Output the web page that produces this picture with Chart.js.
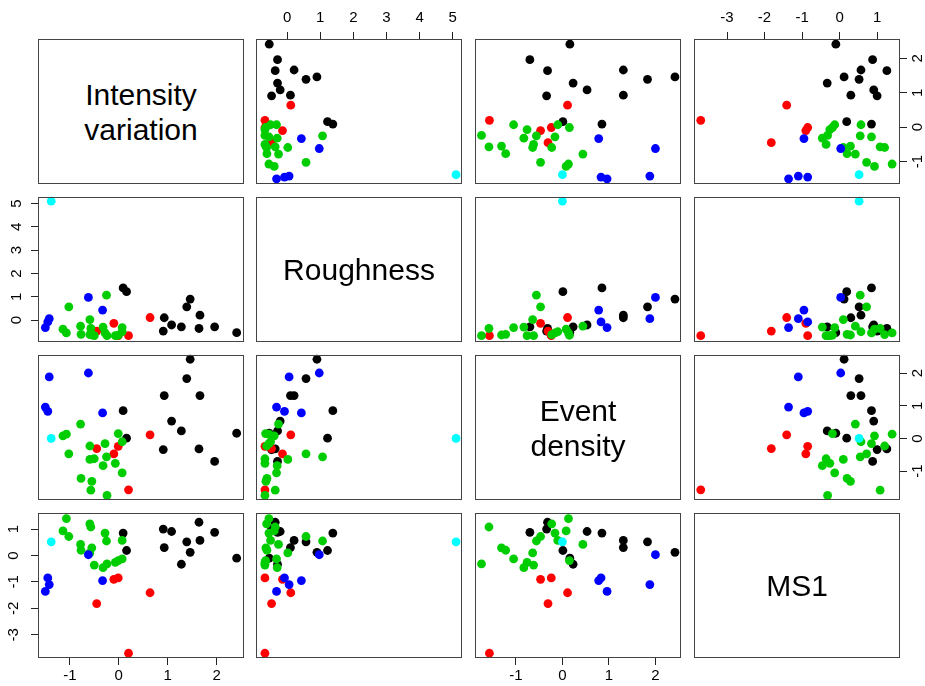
<!DOCTYPE html>
<html>
<head>
<meta charset="utf-8">
<script src="https://cdn.jsdelivr.net/npm/chart.js@4.4.1/dist/chart.umd.min.js"></script>
<style>
  body { margin: 0; background: #fff; overflow: hidden; }
  #wrap { position: relative; width: 925px; height: 686px; overflow: hidden; }
  canvas { position: absolute; }
  .diag {
    position: absolute; box-sizing: border-box; border: 1px solid #444;
    display: flex; align-items: center; justify-content: center;
    text-align: center; white-space: pre-line;
    font-family: "Liberation Sans", Arial, sans-serif; font-size: 30px; line-height: 35px; color: #000;
  }
</style>
</head>
<body>
<div id="wrap"></div>
<script>
// variable names (diagonal labels)
const varNames = ["Intensity\nvariation", "Roughness", "Event\ndensity", "MS1"];

// group of each observation: k = black, r = red, g = green, b = blue, c = cyan
const groups = [
  "k", "k", "k", "k", "k", "k", "k", "k", "k", "k", "k", "k",
  "r", "r", "r", "r", "r",
  "g", "g", "g", "g", "g", "g", "g", "g", "g", "g", "g", "g", "g", "g", "g", "g", "g", "g",
  "b", "b", "b", "b", "b",
  "c",
];

const intensity = [
  0.09, 0.16, 0.91, 0.93, 1.08, 1.28, 1.39, 1.46, 1.64, 1.66, 1.96, 2.41,
  0.64, -0.10, -0.01, -0.45, 0.20,
  -1.07, -1.14, -1.02, -0.78, -0.77, -0.59, -0.57, -0.55, -0.59, -0.50, -0.25, -0.28, -0.32, -0.07, -0.24, 0.07, 0.07, -0.01,
  -0.62, -0.33, -1.42, -1.50, -1.45,
  -1.38,
];

const roughness = [
  1.38, 1.22, -0.47, 0.10, -0.21, -0.29, 0.57, 0.90, -0.36, 0.21, -0.29, -0.54,
  0.11, -0.14, -0.67, -0.47, -0.67,
  -0.55, -0.39, 0.57, -0.26, -0.61, -0.62, -0.36, -0.64, 0.02, -0.67, 1.07, -0.55, -0.30, -0.67, -0.67, -0.32, -0.50, -0.65,
  0.97, 0.43, 0.06, -0.32, -0.08,
  5.10,
];

const eventDensity = [
  0.85, 0.01, -0.34, 1.31, 0.53, 0.23, 1.83, 2.42, -0.32, 1.31, -0.70, 0.16,
  0.11, -0.47, -0.24, -0.31, -1.57,
  0.13, 0.08, -0.47, 0.44, -1.22, -0.23, -1.58, -1.31, -0.64, -0.62, -0.56, -0.16, -0.83, -0.76, -1.74, -1.05, -0.10, 0.15,
  2.00, 0.78, 1.88, 0.96, 0.83,
  0.00,
];

const ms1 = [
  0.85, 0.19, 1.00, 0.30, 0.91, -0.33, 0.52, 0.12, 1.26, 0.57, 0.88, -0.10,
  -1.41, -0.90, -0.85, -1.82, -3.70,
  1.40, 0.93, 0.72, 0.42, 0.20, 1.20, 1.08, 0.29, 0.10, -0.36, 0.55, 0.85, -0.46, -0.26, -0.32, -0.13, 0.57, -0.19,
  0.03, -0.95, -1.10, -1.36, -0.85,
  0.52,
];

// tick labels
const intensityTicks = [-1, 0, 1, 2];
const roughnessTicks = [0, 1, 2, 3, 4, 5];
const eventTicks = [-1, 0, 1, 2];
const ms1Ticks = [-3, -2, -1, 0, 1];

const groupColors = { k: "#000000", r: "#ff0000", g: "#00cd00", b: "#0000ff", c: "#00ffff" };

const vars = [intensity, roughness, eventDensity, ms1];
const tickSets = [intensityTicks, roughnessTicks, eventTicks, ms1Ticks];
const ranges = [[-1.65, 2.56], [-0.94, 5.28], [-1.88, 2.55], [-3.88, 1.61]];

const colLeft = [38, 256, 475, 694];
const rowTop = [39, 197, 355, 513];
const W = 206, H = 145, P = 32;
const fontFamily = "'Liberation Sans', Arial, sans-serif";

const boxPlugin = {
  id: "box",
  afterDraw(chart) {
    const a = chart.chartArea;
    const ctx = chart.ctx;
    ctx.save();
    ctx.strokeStyle = "#444";
    ctx.lineWidth = 1;
    ctx.strokeRect(a.left + 0.5, a.top + 0.5, a.right - a.left - 1, a.bottom - a.top - 1);
    ctx.restore();
  },
};

const axisOpts = (v, side, horiz) => ({
  type: "linear",
  min: ranges[v][0],
  max: ranges[v][1],
  display: !!side,
  position: side || (horiz ? "bottom" : "left"),
  afterBuildTicks: (s) => {
    s.ticks = tickSets[v].map((t) => ({ value: t }));
  },
  afterFit: (s) => {
    // hidden axes must take no room at all
    if (!side) {
      s.width = 0;
      s.height = 0;
    } else if (horiz) {
      s.height = P;
    } else {
      s.width = P;
    }
  },
  grid: { drawOnChartArea: false, drawTicks: true, tickLength: 7, color: "#222", lineWidth: 1 },
  border: { display: false },
  ticks: {
    color: "#000",
    font: { family: fontFamily, size: 15 },
    padding: horiz ? (side === "top" ? 5 : 2) : (side === "left" ? 10 : 4),
    minRotation: horiz ? 0 : 90,
    maxRotation: horiz ? 0 : 90,
    crossAlign: horiz ? "near" : "center",
    autoSkip: false,
    callback: (val) => String(val),
  },
});

const wrap = document.getElementById("wrap");

for (let r = 0; r < 4; r++) {
  for (let c = 0; c < 4; c++) {
    if (r === c) {
      const d = document.createElement("div");
      d.className = "diag";
      d.style.left = colLeft[c] + "px";
      d.style.top = rowTop[r] + "px";
      d.style.width = W + "px";
      d.style.height = H + "px";
      d.textContent = varNames[r];
      wrap.appendChild(d);
      continue;
    }

    let xSide = null;
    if (r === 0 && c % 2 === 1) xSide = "top";
    if (r === 3 && c % 2 === 0) xSide = "bottom";
    let ySide = null;
    if (c === 0 && r % 2 === 1) ySide = "left";
    if (c === 3 && r % 2 === 0) ySide = "right";

    const canvas = document.createElement("canvas");
    canvas.width = W + 2 * P;
    canvas.height = H + 2 * P;
    canvas.style.left = colLeft[c] - P + "px";
    canvas.style.top = rowTop[r] - P + "px";
    wrap.appendChild(canvas);

    const xs = vars[c], ys = vars[r];
    const points = xs.map((x, i) => ({ x: x, y: ys[i] }));
    const colors = groups.map((g) => groupColors[g]);

    new Chart(canvas, {
      type: "scatter",
      data: {
        datasets: [
          {
            data: points,
            backgroundColor: colors,
            borderColor: colors,
            borderWidth: 0,
            pointRadius: 4.4,
            pointHoverRadius: 4.4,
            clip: false,
          },
        ],
      },
      options: {
        responsive: false,
        animation: false,
        events: [],
        plugins: { legend: { display: false }, tooltip: { enabled: false } },
        layout: {
          padding: {
            top: xSide === "top" ? 0 : P,
            bottom: xSide === "bottom" ? 0 : P,
            left: ySide === "left" ? 0 : P,
            right: ySide === "right" ? 0 : P,
          },
        },
        scales: {
          x: axisOpts(c, xSide, true),
          y: axisOpts(r, ySide, false),
        },
      },
      plugins: [boxPlugin],
    });
  }
}
</script>
</body>
</html>
